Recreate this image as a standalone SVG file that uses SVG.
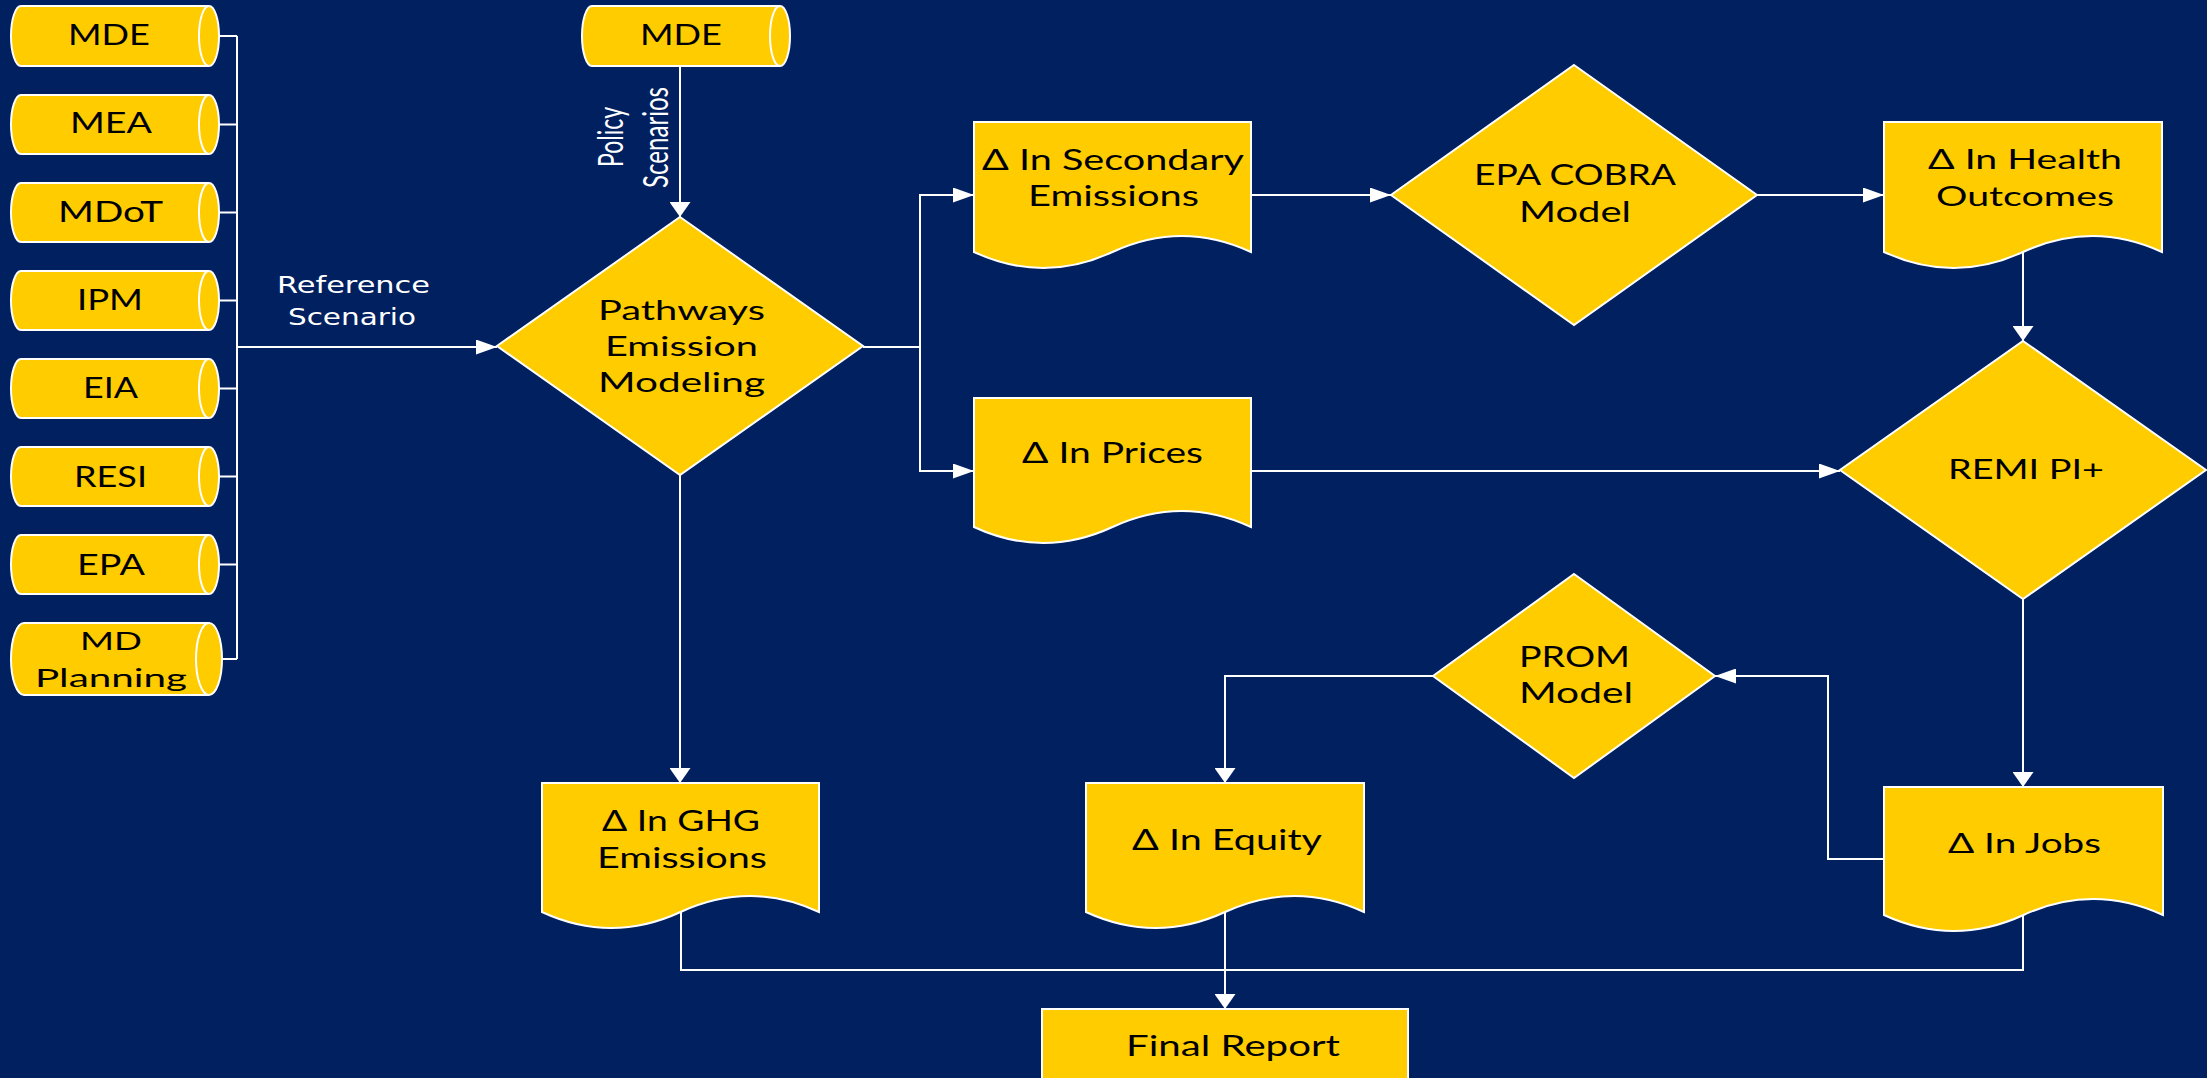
<svg xmlns="http://www.w3.org/2000/svg" width="2207" height="1078" viewBox="0 0 2207 1078">
<style>
.shape{fill:#FFCC00;stroke:#FFFFFF;stroke-width:2;stroke-linejoin:miter}
.inner{fill:none;stroke:#FFFFFF;stroke-width:2}
.conn{fill:none;stroke:#FFFFFF;stroke-width:2}
.t{font-family:Lato,"Open Sans","DejaVu Sans",sans-serif;fill:#000000}
.w{font-family:"DejaVu Sans","Open Sans",sans-serif;fill:#FFFFFF}
.r{font-family:Lato,"Open Sans",sans-serif;fill:#FFFFFF}
</style>
<defs>
<marker id="arrowH" viewBox="0 0 21 15" refX="21" refY="7.5" markerWidth="21" markerHeight="15" markerUnits="userSpaceOnUse" orient="auto"><path d="M0,0 L21,7.5 L0,15 z" fill="#FFFFFF"/></marker>
<marker id="arrowV" viewBox="0 0 15 21" refX="15" refY="10.5" markerWidth="15" markerHeight="21" markerUnits="userSpaceOnUse" orient="auto"><path d="M0,0 L15,10.5 L0,21 z" fill="#FFFFFF"/></marker>
</defs>
<rect x="0" y="0" width="2207" height="1078" fill="#002060"/>

<g id="connectors">
<path class="conn" d="M219,36 H237 M219,124.5 H237 M219,212.5 H237 M219,300.5 H237 M219,388.5 H237 M219,476.5 H237 M219,564.5 H237 M222,659 H237 M237,36 V659"/>
<path class="conn" d="M237,347 H497" marker-end="url(#arrowH)"/>
<path class="conn" d="M680,66 V217" marker-end="url(#arrowV)"/>
<path class="conn" d="M863,347 H920 V195 H974" marker-end="url(#arrowH)"/>
<path class="conn" d="M920,347 V471 H974" marker-end="url(#arrowH)"/>
<path class="conn" d="M680,475 V783" marker-end="url(#arrowV)"/>
<path class="conn" d="M1251,195 H1391" marker-end="url(#arrowH)"/>
<path class="conn" d="M1757,195 H1884" marker-end="url(#arrowH)"/>
<path class="conn" d="M2023,252 V341" marker-end="url(#arrowV)"/>
<path class="conn" d="M1251,471 H1840" marker-end="url(#arrowH)"/>
<path class="conn" d="M2023,599 V787" marker-end="url(#arrowV)"/>
<path class="conn" d="M1884,859 H1828 V676 H1715" marker-end="url(#arrowH)"/>
<path class="conn" d="M1433,676 H1225 V783" marker-end="url(#arrowV)"/>
<path class="conn" d="M681,912 V970 H2023 V915"/>
<path class="conn" d="M1225,912 V1009" marker-end="url(#arrowV)"/>
</g>

<g id="src-mde">
<path class="shape" d="M21,6 H209 A10,30 0 0 1 209,66 H21 A10,30 0 0 1 21,6 Z"/>
<path class="inner" d="M209,6 A10,30 0 0 0 209,66"/>
<text class="t" x="68" y="45" font-size="29" textLength="82" lengthAdjust="spacingAndGlyphs">MDE</text>
</g>
<g id="src-mea">
<path class="shape" d="M21,95 H209 A10,29.5 0 0 1 209,154 H21 A10,29.5 0 0 1 21,95 Z"/>
<path class="inner" d="M209,95 A10,29.5 0 0 0 209,154"/>
<text class="t" x="70" y="133" font-size="29" textLength="82" lengthAdjust="spacingAndGlyphs">MEA</text>
</g>
<g id="src-mdot">
<path class="shape" d="M21,183 H209 A10,29.5 0 0 1 209,242 H21 A10,29.5 0 0 1 21,183 Z"/>
<path class="inner" d="M209,183 A10,29.5 0 0 0 209,242"/>
<text class="t" x="58" y="222" font-size="29" textLength="105" lengthAdjust="spacingAndGlyphs">MDoT</text>
</g>
<g id="src-ipm">
<path class="shape" d="M21,271 H209 A10,29.5 0 0 1 209,330 H21 A10,29.5 0 0 1 21,271 Z"/>
<path class="inner" d="M209,271 A10,29.5 0 0 0 209,330"/>
<text class="t" x="77" y="310" font-size="29" textLength="66" lengthAdjust="spacingAndGlyphs">IPM</text>
</g>
<g id="src-eia">
<path class="shape" d="M21,359 H209 A10,29.5 0 0 1 209,418 H21 A10,29.5 0 0 1 21,359 Z"/>
<path class="inner" d="M209,359 A10,29.5 0 0 0 209,418"/>
<text class="t" x="83" y="398" font-size="29" textLength="55" lengthAdjust="spacingAndGlyphs">EIA</text>
</g>
<g id="src-resi">
<path class="shape" d="M21,447 H209 A10,29.5 0 0 1 209,506 H21 A10,29.5 0 0 1 21,447 Z"/>
<path class="inner" d="M209,447 A10,29.5 0 0 0 209,506"/>
<text class="t" x="74" y="487" font-size="29" textLength="73" lengthAdjust="spacingAndGlyphs">RESI</text>
</g>
<g id="src-epa">
<path class="shape" d="M21,535 H209 A10,29.5 0 0 1 209,594 H21 A10,29.5 0 0 1 21,535 Z"/>
<path class="inner" d="M209,535 A10,29.5 0 0 0 209,594"/>
<text class="t" x="77" y="575" font-size="29" textLength="68" lengthAdjust="spacingAndGlyphs">EPA</text>
</g>
<g id="src-mdplanning">
<path class="shape" d="M24,623 H209 A13,36 0 0 1 209,695 H24 A13,36 0 0 1 24,623 Z"/>
<path class="inner" d="M209,623 A13,36 0 0 0 209,695"/>
<text class="t" x="80" y="650" font-size="25" textLength="62" lengthAdjust="spacingAndGlyphs">MD</text>
<text class="t" x="35" y="687" font-size="25" textLength="152" lengthAdjust="spacingAndGlyphs">Planning</text>
</g>

<g id="lbl-reference">
<text class="w" x="277" y="293" font-size="23" textLength="153" lengthAdjust="spacingAndGlyphs">Reference</text>
<text class="w" x="288" y="325" font-size="23" textLength="128" lengthAdjust="spacingAndGlyphs">Scenario</text>
</g>

<g id="top-mde">
<path class="shape" d="M592,6 H780 A10,30 0 0 1 780,66 H592 A10,30 0 0 1 592,6 Z"/>
<path class="inner" d="M780,6 A10,30 0 0 0 780,66"/>
<text class="t" x="640" y="45" font-size="29" textLength="82" lengthAdjust="spacingAndGlyphs">MDE</text>
</g>

<g id="lbl-policy">
<text class="r" transform="translate(623,167) rotate(-90)" font-size="35" textLength="60" lengthAdjust="spacingAndGlyphs">Policy</text>
<text class="r" transform="translate(668,188) rotate(-90)" font-size="35" textLength="101" lengthAdjust="spacingAndGlyphs">Scenarios</text>
</g>

<g id="pathways">
<path class="shape" d="M680,217 L863,346 L680,475 L497,346 Z"/>
<text class="t" x="598" y="320" font-size="26" textLength="167" lengthAdjust="spacingAndGlyphs">Pathways</text>
<text class="t" x="605" y="356" font-size="26" textLength="153" lengthAdjust="spacingAndGlyphs">Emission</text>
<text class="t" x="598" y="392" font-size="26" textLength="167" lengthAdjust="spacingAndGlyphs">Modeling</text>
</g>

<g id="secondary">
<path class="shape" d="M974,122 H1251 V252 Q1181.75,220 1112.5,252 Q1043.25,284 974,252 Z"/>
<text class="t" x="982" y="170" font-size="29" textLength="262" lengthAdjust="spacingAndGlyphs">Δ In Secondary</text>
<text class="t" x="1028" y="206" font-size="29" textLength="171" lengthAdjust="spacingAndGlyphs">Emissions</text>
</g>

<g id="prices">
<path class="shape" d="M974,398 H1251 V527 Q1181.75,495 1112.5,527 Q1043.25,559 974,527 Z"/>
<text class="t" x="1022" y="463" font-size="29" textLength="181" lengthAdjust="spacingAndGlyphs">Δ In Prices</text>
</g>

<g id="cobra">
<path class="shape" d="M1574,65 L1757,195 L1574,325 L1391,195 Z"/>
<text class="t" x="1474" y="185" font-size="28" textLength="202" lengthAdjust="spacingAndGlyphs">EPA COBRA</text>
<text class="t" x="1519" y="222" font-size="28" textLength="112" lengthAdjust="spacingAndGlyphs">Model</text>
</g>

<g id="health">
<path class="shape" d="M1884,122 H2162 V252 Q2092.5,220 2023,252 Q1953.5,284 1884,252 Z"/>
<text class="t" x="1928" y="169" font-size="26" textLength="194" lengthAdjust="spacingAndGlyphs">Δ In Health</text>
<text class="t" x="1936" y="206" font-size="26" textLength="178" lengthAdjust="spacingAndGlyphs">Outcomes</text>
</g>

<g id="remi">
<path class="shape" d="M2023,341 L2206,470 L2023,599 L1840,470 Z"/>
<text class="t" x="1948" y="479" font-size="26" textLength="156" lengthAdjust="spacingAndGlyphs">REMI PI+</text>
</g>

<g id="prom">
<path class="shape" d="M1574,574 L1715,676 L1574,778 L1433,676 Z"/>
<text class="t" x="1519" y="667" font-size="28" textLength="111" lengthAdjust="spacingAndGlyphs">PROM</text>
<text class="t" x="1519" y="703" font-size="28" textLength="114" lengthAdjust="spacingAndGlyphs">Model</text>
</g>

<g id="jobs">
<path class="shape" d="M1884,787 H2163 V915 Q2093.25,883 2023.5,915 Q1953.75,947 1884,915 Z"/>
<text class="t" x="1948" y="853" font-size="26" textLength="153" lengthAdjust="spacingAndGlyphs">Δ In Jobs</text>
</g>

<g id="ghg">
<path class="shape" d="M542,783 H819 V912 Q749.75,880 680.5,912 Q611.25,944 542,912 Z"/>
<text class="t" x="602" y="831" font-size="28" textLength="158" lengthAdjust="spacingAndGlyphs">Δ In GHG</text>
<text class="t" x="597" y="868" font-size="28" textLength="170" lengthAdjust="spacingAndGlyphs">Emissions</text>
</g>

<g id="equity">
<path class="shape" d="M1086,783 H1364 V912 Q1294.5,880 1225,912 Q1155.5,944 1086,912 Z"/>
<text class="t" x="1132" y="850" font-size="29" textLength="190" lengthAdjust="spacingAndGlyphs">Δ In Equity</text>
</g>

<g id="final-report">
<rect class="shape" x="1042" y="1009" width="366" height="90"/>
<text class="t" x="1126" y="1056" font-size="28" textLength="214" lengthAdjust="spacingAndGlyphs">Final Report</text>
</g>
</svg>
